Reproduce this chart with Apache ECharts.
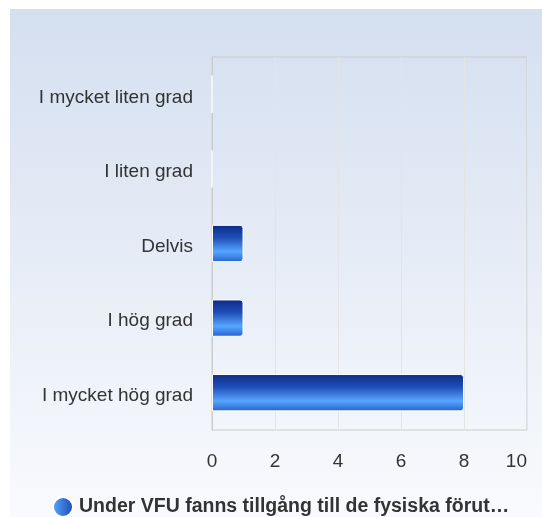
<!DOCTYPE html>
<html>
<head>
<meta charset="utf-8">
<script src="https://cdn.jsdelivr.net/npm/echarts@6/dist/echarts.min.js"></script>
<style>
html,body{margin:0;padding:0;background:#fff;}
#chart{width:542px;height:517px;}
</style>
</head>
<body>
<div id="chart"></div>
<script>
const categories = ["I mycket liten grad", "I liten grad", "Delvis", "I hög grad", "I mycket hög grad"];
const values = [0, 0, 1, 1, 8];
const seriesName = "Under VFU fanns tillgång till de fysiska förut…";
const xTicks = [0, 2, 4, 6, 8, 10];

const chart = echarts.init(document.getElementById('chart'), null, {renderer: 'canvas'});
const barGradient = new echarts.graphic.LinearGradient(0, 0, 0, 1, [
  {offset: 0, color: '#0d2a86'},
  {offset: 0.35, color: '#1f4fb8'},
  {offset: 0.72, color: '#56a6ff'},
  {offset: 1, color: '#2462cc'}
]);
const FONT = 'Liberation Sans, Arial, sans-serif';
const option = {
  animation: false,
  backgroundColor: '#ffffff',
  graphic: [{
    type: 'rect', z: -10, silent: true,
    shape: {x: 10, y: 9, width: 532, height: 508},
    style: {fill: new echarts.graphic.LinearGradient(0, 0, 0, 1, [
      {offset: 0, color: '#d4dff0'},
      {offset: 1, color: '#f9fafd'}
    ])}
  }],
  grid: {left: 212, top: 57, right: 15, bottom: 87, show: true, borderColor: '#cccccc', borderWidth: 1, backgroundColor: 'transparent'},
  legend: {
    top: 496, left: 52, icon: 'circle', itemWidth: 20, itemHeight: 20, itemGap: 6, padding: 0,
    textStyle: {fontFamily: FONT, fontSize: 19.5, fontWeight: 'bold', color: '#333', padding: [0, 0, 0, 1]},
    data: [{name: seriesName, itemStyle: {color: new echarts.graphic.LinearGradient(0, 0, 1, 0, [
      {offset: 0, color: '#5aa8ff'}, {offset: 1, color: '#1a46b0'}])}}]
  },
  xAxis: {
    type: 'value', min: xTicks[0], max: xTicks[xTicks.length - 1], interval: 2,
    axisLine: {show: false}, axisTick: {show: false},
    splitLine: {show: true, lineStyle: {color: '#e4e4e4'}},
    axisLabel: {margin: 22, fontFamily: FONT, fontSize: 19, color: '#333', alignMaxLabel: 'right'}
  },
  yAxis: {
    type: 'category', data: categories, inverse: true,
    axisLine: {show: true, lineStyle: {color: '#cccccc'}}, axisTick: {show: false},
    axisLabel: {margin: 19, fontFamily: FONT, fontSize: 19, color: '#333', verticalAlign: 'top', lineHeight: 6}
  },
  series: [{
    name: seriesName, type: 'bar', data: values, barWidth: '50%',
    itemStyle: {color: barGradient, borderColor: '#ffffff', borderWidth: 1, borderRadius: [0, 3, 3, 0]}
  }]
};
chart.setOption(option);
</script>
</body>
</html>
